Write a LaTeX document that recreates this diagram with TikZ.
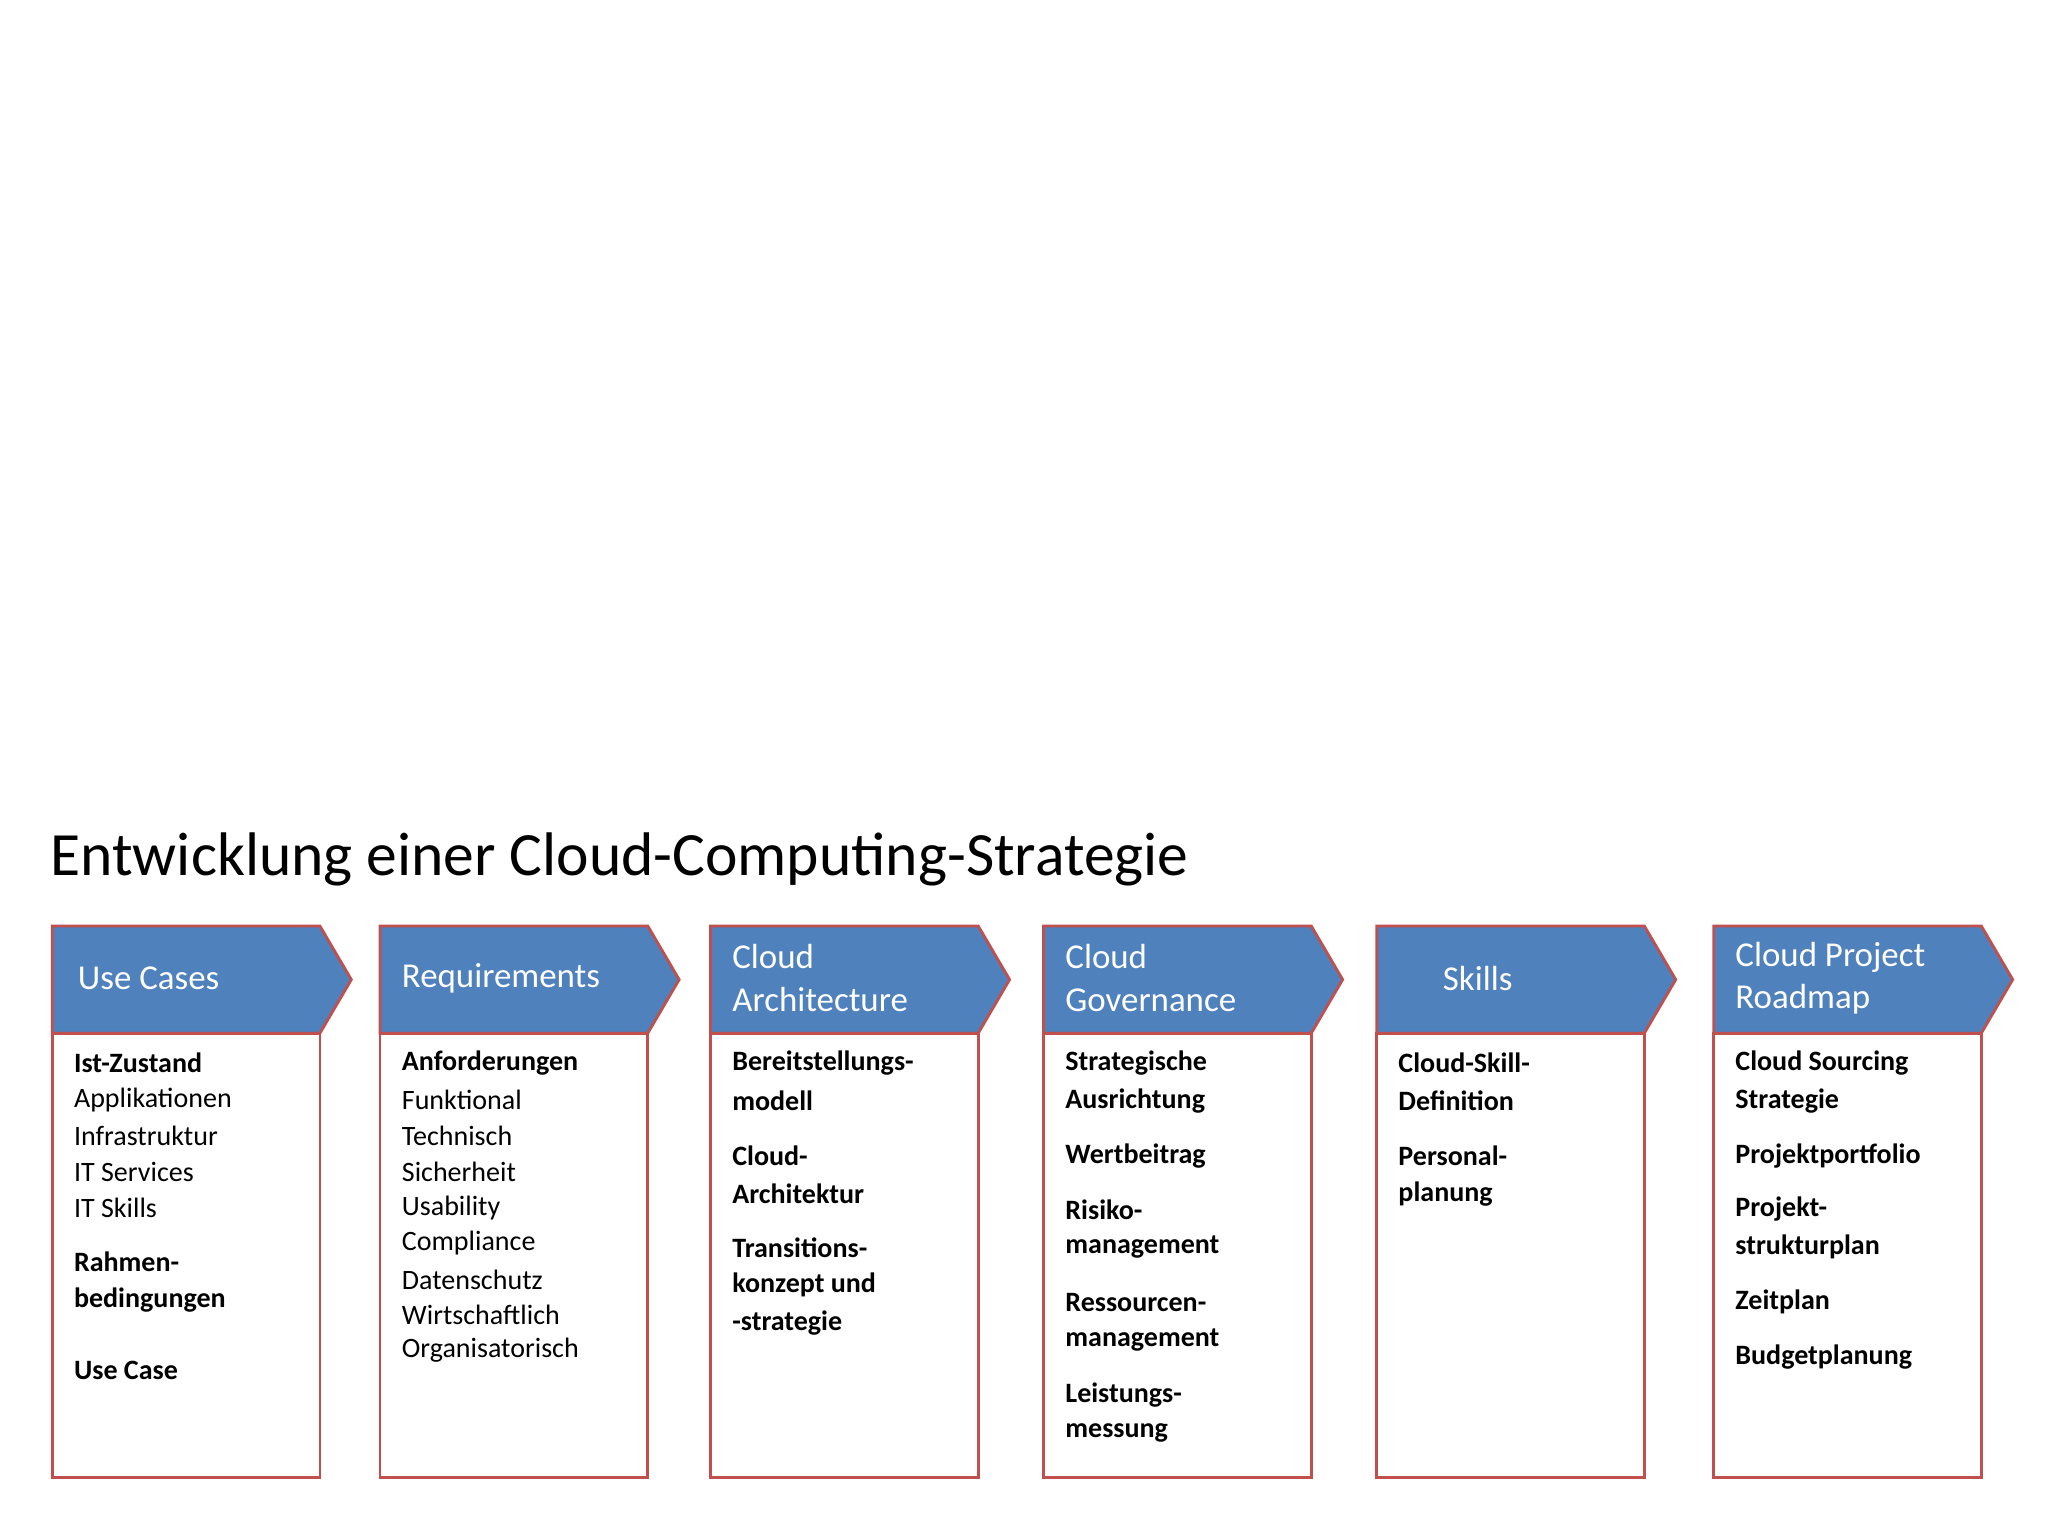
\documentclass[tikz,border=0pt]{standalone}
\usepackage{fontspec}
\setmainfont{Carlito}
\begin{document}
\begin{tikzpicture}[x=0.01cm,y=-0.01cm,
  hdr/.style={fill=hblue,draw=hred,line width=0.6pt},
  body/.style={draw=hred,fill=white,line width=0.6pt},
  htxt/.style={anchor=west,inner sep=0pt,text=white,font=\fontsize{7.6pt}{9.3pt}\selectfont,align=left},
  ln/.style={anchor=west,inner sep=0pt,font=\fontsize{6.1pt}{7.3pt}\selectfont},
  bl/.style={ln,font=\fontsize{6.1pt}{7.3pt}\selectfont\bfseries}]
\definecolor{hblue}{HTML}{4F81BD}
\definecolor{hred}{HTML}{C0504D}
\useasboundingbox (0,0) rectangle (1568,1176);
\node[anchor=west,inner sep=0pt,font=\fontsize{13.4pt}{16pt}\selectfont] (title) at (38,658) {Entwicklung einer Cloud-Computing-Strategie};
\foreach \x [count=\i] in {40,291,544,799,1054,1312}{
  \draw[body] (\x,791) rectangle (\x+205,1131);
  \draw[hdr] (\x,709) -- (\x+205,709) -- (\x+229,750) -- (\x+205,791) -- (\x,791) -- cycle;
}
\node[htxt] (h1) at (59,749) {Use Cases};
\node[htxt] (h2) at (307,749) {Requirements};
\node[htxt] (h3) at (560,749) {Cloud\\Architecture};
\node[htxt] (h4) at (815,749) {Cloud\\Governance};
\node[htxt] (h5) at (1104,749) {Skills};
\node[htxt] (h6) at (1328,749) {Cloud Project\\Roadmap};
\foreach \s/\y/\t [count=\i] in {bl/814/Ist-Zustand,ln/842/Applikationen,ln/870/Infrastruktur,ln/897/IT Services,ln/925/IT Skills,bl/966/Rahmen-,bl/995/bedingungen,bl/1049/Use Case}
  \node[\s] (a\i) at (56,\y) {\t};
\foreach \s/\y/\t [count=\i] in {bl/814/Anforderungen,ln/842/Funktional,ln/870/Technisch,ln/897/Sicherheit,ln/925/Usability,ln/952/Compliance,ln/980/Datenschutz,ln/1007/Wirtschaftlich,ln/1034/Organisatorisch}
  \node[\s] (b\i) at (307,\y) {\t};
\foreach \y/\t [count=\i] in {814/Bereitstellungs-,843/modell,885/Cloud-,914/Architektur,955/Transitions-,984/konzept und,1013/-strategie}
  \node[bl] (c\i) at (560,\y) {\t};
\foreach \y/\t [count=\i] in {814/Strategische,843/Ausrichtung,885/Wertbeitrag,926/Risiko-,955/management,997/Ressourcen-,1026/management,1068/Leistungs-,1097/messung}
  \node[bl] (d\i) at (815,\y) {\t};
\foreach \y/\t [count=\i] in {814/Cloud-Skill-,843/Definition,885/Personal-,914/planung}
  \node[bl] (e\i) at (1070,\y) {\t};
\foreach \y/\t [count=\i] in {814/Cloud Sourcing,843/Strategie,885/Projektportfolio,926/Projekt-,955/strukturplan,997/Zeitplan,1039/Budgetplanung}
  \node[bl] (f\i) at (1328,\y) {\t};
\end{tikzpicture}
\end{document}
